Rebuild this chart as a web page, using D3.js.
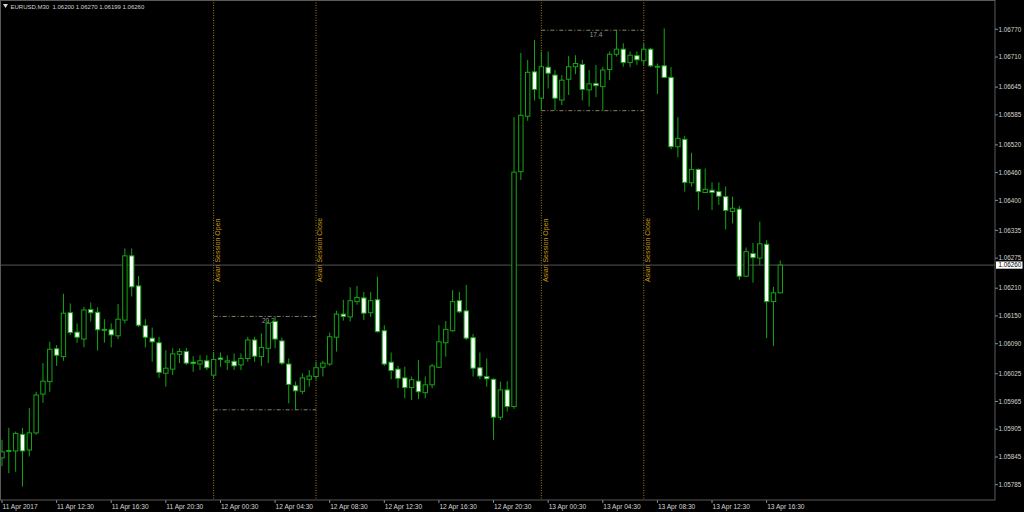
<!DOCTYPE html>
<html><head><meta charset="utf-8">
<script src="https://cdn.jsdelivr.net/npm/d3@7"></script>
<style>html,body{margin:0;padding:0;background:#000;overflow:hidden}svg{display:block}</style>
</head><body><svg id="c" width="1024" height="512"></svg>
<script>
// ---------------- DATA ----------------
const symbolTitle = "EURUSD,M30";
const firstBarTime = "2017-04-11T08:30";
const barMinutes = 30;
const opens = [1.05843,1.05857,1.05858,1.05894,1.05860,1.05897,1.05981,1.06008,1.06079,1.06062,
1.06157,1.06115,1.06100,1.06164,1.06158,1.06121,1.06120,1.06107,1.06141,1.06280,
1.06215,1.06129,1.06102,1.06092,1.06026,1.06035,1.06067,1.06073,1.06050,1.06046,
1.06053,1.06022,1.06059,1.06050,1.06052,1.06044,1.06058,1.06098,1.06062,1.06080,
1.06138,1.06096,1.06046,1.05999,1.05987,1.06013,1.06019,1.06039,1.06046,1.06104,
1.06154,1.06148,1.06181,1.06189,1.06157,1.06185,1.06118,1.06050,1.06035,1.06016,
1.05995,1.06009,1.05984,1.06001,1.06039,1.06092,1.06118,1.06183,1.06161,1.06103,
1.06038,1.06019,1.06013,1.05931,1.05990,1.05954,1.06462,1.06582,1.06678,1.06621,
1.06688,1.06671,1.06617,1.06662,1.06689,1.06694,1.06639,1.06653,1.06646,1.06683,
1.06716,1.06727,1.06698,1.06713,1.06702,1.06727,1.06690,1.06691,1.06666,1.06516,
1.06532,1.06438,1.06467,1.06417,1.06422,1.06419,1.06408,1.06376,1.06381,1.06236,
1.06285,1.06275,1.06305,1.06181,1.06200];
const highs = [1.05882,1.05908,1.05900,1.05908,1.05951,1.05986,1.06048,1.06094,1.06087,1.06198,
1.06177,1.06134,1.06170,1.06179,1.06169,1.06143,1.06134,1.06176,1.06296,1.06296,
1.06236,1.06143,1.06125,1.06105,1.06076,1.06080,1.06080,1.06081,1.06063,1.06065,
1.06065,1.06072,1.06071,1.06065,1.06069,1.06069,1.06105,1.06105,1.06112,1.06141,
1.06149,1.06103,1.06058,1.06008,1.06026,1.06033,1.06051,1.06053,1.06114,1.06161,
1.06185,1.06212,1.06215,1.06202,1.06202,1.06235,1.06130,1.06071,1.06042,1.06040,
1.06019,1.06055,1.06019,1.06046,1.06130,1.06139,1.06206,1.06202,1.06217,1.06111,
1.06071,1.06058,1.06015,1.06008,1.06009,1.06580,1.06719,1.06704,1.06747,1.06722,
1.06722,1.06682,1.06671,1.06712,1.06714,1.06704,1.06682,1.06693,1.06689,1.06722,
1.06768,1.06740,1.06722,1.06722,1.06740,1.06730,1.06696,1.06772,1.06688,1.06580,
1.06539,1.06503,1.06469,1.06469,1.06439,1.06439,1.06430,1.06408,1.06388,1.06298,
1.06308,1.06354,1.06314,1.06213,1.06270];
const lows = [1.05825,1.05810,1.05813,1.05781,1.05846,1.05893,1.05962,1.05986,1.06042,1.06053,
1.06109,1.06092,1.06082,1.06138,1.06075,1.06092,1.06082,1.06100,1.06134,1.06192,
1.06126,1.06082,1.06051,1.06016,1.05997,1.06022,1.06048,1.06044,1.06029,1.06033,
1.06033,1.06016,1.06040,1.06033,1.06033,1.06033,1.06051,1.06051,1.06042,1.06048,
1.06080,1.06044,1.05961,1.05947,1.05981,1.05997,1.06012,1.06019,1.06042,1.06073,
1.06140,1.06138,1.06174,1.06141,1.06148,1.06114,1.06042,1.06013,1.05994,1.05972,
1.05968,1.05970,1.05972,1.05994,1.06037,1.06062,1.06116,1.06156,1.06098,1.06019,
1.06013,1.05997,1.05882,1.05925,1.05943,1.05949,1.06444,1.06572,1.06616,1.06595,
1.06642,1.06595,1.06606,1.06628,1.06673,1.06616,1.06603,1.06623,1.06594,1.06660,
1.06711,1.06689,1.06688,1.06693,1.06693,1.06688,1.06630,1.06664,1.06510,1.06493,
1.06419,1.06430,1.06379,1.06416,1.06379,1.06390,1.06337,1.06350,1.06228,1.06234,
1.06222,1.06260,1.06102,1.06085,1.06199];
const closes = [1.05856,1.05859,1.05896,1.05858,1.05897,1.05979,1.06009,1.06078,1.06065,1.06156,
1.06114,1.06104,1.06163,1.06157,1.06120,1.06119,1.06109,1.06143,1.06280,1.06213,
1.06130,1.06104,1.06094,1.06028,1.06037,1.06068,1.06073,1.06048,1.06047,1.06053,
1.06038,1.06056,1.06056,1.06053,1.06042,1.06058,1.06098,1.06063,1.06082,1.06134,
1.06100,1.06048,1.06002,1.05988,1.06016,1.06020,1.06038,1.06048,1.06105,1.06154,
1.06149,1.06183,1.06190,1.06156,1.06183,1.06116,1.06046,1.06032,1.06015,1.05995,
1.06012,1.05986,1.06001,1.06042,1.06094,1.06121,1.06181,1.06159,1.06102,1.06037,
1.06020,1.06014,1.05931,1.05990,1.05954,1.06461,1.06584,1.06677,1.06640,1.06689,
1.06675,1.06621,1.06660,1.06689,1.06696,1.06640,1.06652,1.06648,1.06682,1.06716,
1.06727,1.06698,1.06714,1.06704,1.06727,1.06691,1.06689,1.06666,1.06516,1.06534,
1.06439,1.06467,1.06419,1.06424,1.06417,1.06409,1.06378,1.06383,1.06236,1.06289,
1.06276,1.06306,1.06181,1.06200,1.06260];
const yTickValues = [1.06770,1.06710,1.06645,1.06585,1.06520,1.06460,1.06400,1.06335,1.06275,1.06210,1.06150,1.06090,1.06025,1.05965,1.05905,1.05845,1.05785];
const yTickLabels = ["1.06770","1.06710","1.06645","1.06585","1.06520","1.06460","1.06400","1.06335","1.06275","1.06210","1.06150","1.06090","1.06025","1.05965","1.05905","1.05845","1.05785"];
const xTickTimes = ["2017-04-11T08:30","2017-04-11T12:30","2017-04-11T16:30","2017-04-11T20:30","2017-04-12T00:30","2017-04-12T04:30","2017-04-12T08:30","2017-04-12T12:30","2017-04-12T16:30","2017-04-12T20:30","2017-04-13T00:30","2017-04-13T04:30","2017-04-13T08:30","2017-04-13T12:30","2017-04-13T16:30"];
const xTickLabels = ["11 Apr 2017","11 Apr 12:30","11 Apr 16:30","11 Apr 20:30","12 Apr 00:30","12 Apr 04:30","12 Apr 08:30","12 Apr 12:30","12 Apr 16:30","12 Apr 20:30","13 Apr 00:30","13 Apr 04:30","13 Apr 08:30","13 Apr 12:30","13 Apr 16:30"];
const sessionOpenTimes = ["2017-04-12T00:00","2017-04-13T00:00"];
const sessionCloseTimes = ["2017-04-12T07:30","2017-04-13T07:30"];
const sessionHighs = [1.06149,1.06768];
const sessionLows = [1.05947,1.06594];
const sessionRangeLabels = ["20.2","17.4"];
const lastPrice = 1.06260;
const lastPriceLabel = "1.06260";

// ---------------- DRAW ----------------
const svg = d3.select("#c");
const W = 1024, H = 512, plotR = 995, plotB = 500;
const parse = d3.timeParse("%Y-%m-%dT%H:%M");
const t0 = parse(firstBarTime);
const barMs = barMinutes * 60000;
const times = opens.map((_, i) => new Date(+t0 + i * barMs));
const x = d3.scaleTime().domain([t0, new Date(+t0 + 145.45 * barMs)]).range([2, plotR]);
const y = d3.scaleLinear().domain([1.05785, 1.06770]).range([484.7, 29.3]);

svg.append("rect").attr("width", W).attr("height", H).attr("fill", "#000");

const green = "#14a514";
const font = "Liberation Sans, Arial, sans-serif";

// session lines & ranges
const sessG = svg.append("g");
sessionOpenTimes.forEach((s, k) => {
  const xo = x(parse(s)), xc = x(parse(sessionCloseTimes[k]));
  [[xo, "Asian Session Open"], [xc, "Asian Session Close"]].forEach(([xx, label]) => {
    sessG.append("line").attr("x1", xx).attr("x2", xx).attr("y1", 0).attr("y2", plotB)
      .attr("stroke", "#a97c12").attr("stroke-width", 1).attr("stroke-dasharray", "1,1.5");
    sessG.append("text").attr("transform", `translate(${xx + 6.3},282) rotate(-90)`)
      .attr("font-family", font).attr("font-size", 7).attr("fill", "#c99a12").text(label);
  });
  [sessionHighs[k], sessionLows[k]].forEach(v => {
    sessG.append("line").attr("x1", xo).attr("x2", xc).attr("y1", y(v)).attr("y2", y(v))
      .attr("stroke", "#8c7e68").attr("stroke-width", 1).attr("stroke-dasharray", "4,2,1,2");
  });
  sessG.append("text").attr("x", (xo + xc) / 2 + 3.5).attr("y", y(sessionHighs[k]) + 6.8)
    .attr("text-anchor", "middle").attr("font-family", font).attr("font-size", 6.5)
    .attr("fill", "#9a9a9a").text(sessionRangeLabels[k]);
});

// last price line
svg.append("line").attr("x1", 0).attr("x2", plotR).attr("y1", y(lastPrice)).attr("y2", y(lastPrice))
  .attr("stroke", "#555").attr("stroke-width", 1);

// candles
const bars = times.map((t, i) => ({t, o: opens[i], h: highs[i], l: lows[i], c: closes[i]}));
const cg = svg.append("g");
cg.selectAll("line.w").data(bars).join("line").attr("class", "w")
  .attr("x1", d => x(d.t)).attr("x2", d => x(d.t))
  .attr("y1", d => y(d.h)).attr("y2", d => y(d.l))
  .attr("stroke", green).attr("stroke-width", 1);
const bw = 4.4;
cg.selectAll("rect.b").data(bars).join("rect").attr("class", "b")
  .attr("x", d => x(d.t) - bw / 2)
  .attr("y", d => y(Math.max(d.o, d.c)))
  .attr("width", bw)
  .attr("height", d => Math.max(Math.abs(y(d.o) - y(d.c)), 0.8))
  .attr("fill", d => d.c >= d.o ? "#000" : "#fff")
  .attr("stroke", green).attr("stroke-width", 1);

// borders
svg.append("rect").attr("x", 0.5).attr("y", 0.5).attr("width", plotR - 0.5).attr("height", plotB - 0.5)
  .attr("fill", "none").attr("stroke", "#5a5a5a").attr("stroke-width", 1);

// y axis
const yAxis = svg.append("g");
yTickValues.forEach((v, i) => {
  yAxis.append("line").attr("x1", plotR).attr("x2", plotR + 3).attr("y1", y(v)).attr("y2", y(v))
    .attr("stroke", "#8a8a8a");
  yAxis.append("text").attr("x", plotR + 3.5).attr("y", y(v)).attr("dy", "0.35em")
    .attr("font-family", font).attr("font-size", 6.3).attr("fill", "#d4d4d4").text(yTickLabels[i]);
});
// last price tag
svg.append("rect").attr("x", plotR + 1).attr("y", y(lastPrice) - 3.6).attr("width", 26.5).attr("height", 7.2)
  .attr("fill", "#fff");
svg.append("text").attr("x", plotR + 3.5).attr("y", y(lastPrice)).attr("dy", "0.35em")
  .attr("font-family", font).attr("font-size", 6.3).attr("fill", "#000").text(lastPriceLabel);

// x axis
const xAxis = svg.append("g");
xTickTimes.forEach((s, i) => {
  const xx = x(parse(s));
  xAxis.append("line").attr("x1", xx).attr("x2", xx).attr("y1", plotB).attr("y2", plotB + 3)
    .attr("stroke", "#8a8a8a");
  xAxis.append("text").attr("x", xx + 0.5).attr("y", 508.5)
    .attr("font-family", font).attr("font-size", 6.6).attr("fill", "#d4d4d4").text(xTickLabels[i]);
});

// header
const last = bars[bars.length - 1];
svg.append("path").attr("d", "M3,4 L8,4 L5.5,8 Z").attr("fill", "#d4d4d4");
svg.append("text").attr("x", 10.5).attr("y", 8.6).attr("font-family", font).attr("font-size", 6)
  .attr("fill", "#d4d4d4").attr("xml:space", "preserve")
  .text(`${symbolTitle}  ${last.o.toFixed(5)} ${last.h.toFixed(5)} ${last.l.toFixed(5)} ${last.c.toFixed(5)}`);
</script></body></html>
